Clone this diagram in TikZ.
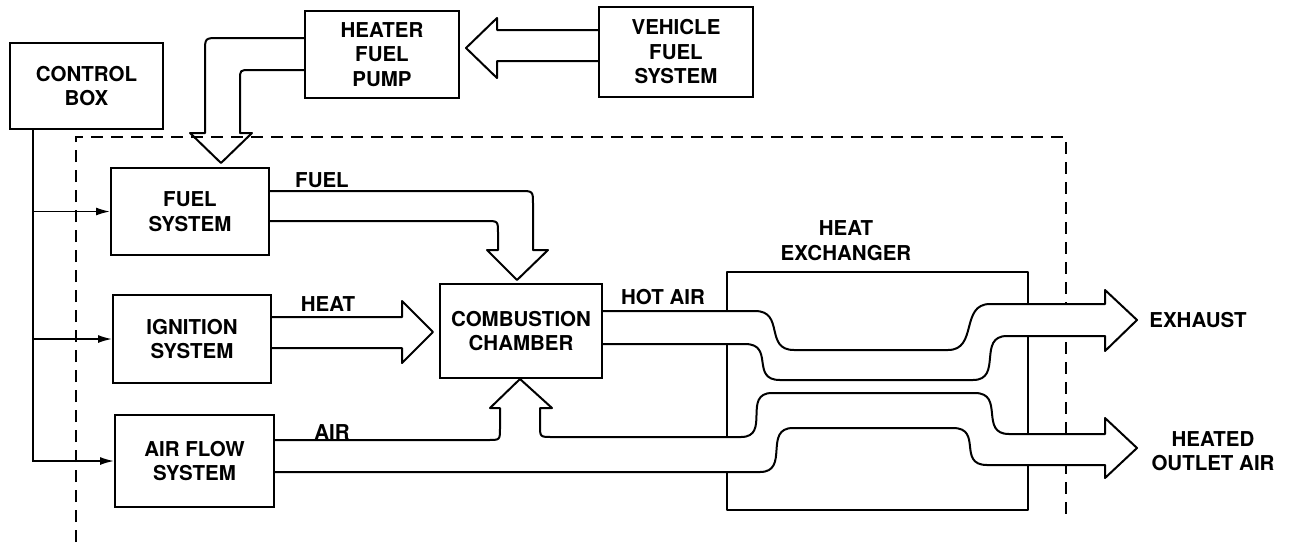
\documentclass[tikz,border=0pt]{standalone}
\usepackage{fontspec}
\setmainfont{TeX Gyre Heros}
\usetikzlibrary{arrows.meta}
\begin{document}
\begin{tikzpicture}[x=1pt,y=-1pt,
  every node/.style={font=\fontsize{20.5}{24.5}\selectfont\bfseries},
  box/.style={draw,line width=2pt,align=center,inner sep=0pt},
  lbl/.style={inner sep=0pt,align=center},
  ln/.style={line width=2pt,line join=round,line cap=round},
  flow/.style={draw,line width=2pt,line join=round,line cap=round},
  flowfill/.style={flow,fill=white},
  ctl/.style={line width=1.6pt},
  ctlarrow/.style={ctl,-{Latex[length=14pt,width=8pt]}},
  dsh/.style={line width=1.8pt,dash pattern=on 12pt off 8pt}]
\useasboundingbox (0,0) rectangle (1290,542);

% dashed enclosure
\draw[dsh] (76,542) -- (76,137) -- (1066,137) -- (1066,518);

% boxes
\node[box,minimum width=153pt,minimum height=86pt] (cb) at (86.5,86) {CONTROL\\BOX};
\node[box,minimum width=154pt,minimum height=87pt] (pump) at (382,54.5) {HEATER\\FUEL\\PUMP};
\node[box,minimum width=154pt,minimum height=90pt] (vfs) at (676,52) {VEHICLE\\FUEL\\SYSTEM};
\node[box,minimum width=158pt,minimum height=87pt] (fuel) at (190,211.5) {FUEL\\SYSTEM};
\node[box,minimum width=158pt,minimum height=88pt] (ign) at (192,339) {IGNITION\\SYSTEM};
\node[box,minimum width=159pt,minimum height=92pt] (air) at (194.5,461) {AIR FLOW\\SYSTEM};
\node[box,minimum width=162pt,minimum height=94pt] (comb) at (521,331) {COMBUSTION\\CHAMBER};
\node[inner sep=0pt,minimum width=301pt,minimum height=238pt] (hx) at (877.5,391) {};

% labels
\node[lbl] (lfuel) at (322,180) {FUEL};
\node[lbl] (lheat) at (328,304) {HEAT};
\node[lbl] (lair) at (332,432) {AIR};
\node[lbl] (lhot) at (663,297) {HOT AIR};
\node[lbl] (lhx) at (846,240.5) {HEAT\\EXCHANGER};
\node[lbl] (lexh) at (1198,320) {EXHAUST};
\node[lbl] (lout) at (1213,451) {HEATED\\OUTLET AIR};

% control lines
\coordinate (trunk) at (33,129);
\draw[ctlarrow] (trunk) |- (air.west);
\draw[ctlarrow] (trunk |- fuel.west) -- (fuel.west);
\draw[ctlarrow] (trunk |- ign.west) -- (ign.west);

% heat exchanger outline
\draw[ln] (hx.north west |- 0,311) -- (hx.north west) -- (hx.north east) -- (hx.north east |- 0,304);
\draw[ln] (hx.west |- 0,344) -- (hx.west |- 0,437);
\draw[ln] (hx.east |- 0,336) -- (hx.east |- 0,434);
\draw[ln] (hx.west |- 0,472) -- (hx.south west) -- (hx.south east) -- (hx.east |- 0,465);

% vehicle fuel -> heater pump
\draw[flow] (vfs.west |- 0,30) -- (497,30) -- (497,18) -- (466,48) -- (497,78) -- (497,61) -- (vfs.west |- 0,61);

% heater pump -> fuel system
\draw[flow] (pump.west |- 0,38) -- (219,38) .. controls (205,38) .. (205,52) -- (205,133)
  -- (190,133) -- (221,163) -- (252,133) -- (240,133) -- (240,80) .. controls (240,70) .. (250,70) -- (pump.west |- 0,70);

% fuel system -> combustion
\draw[flowfill] (fuel.east |- 0,191) -- (520,191) .. controls (533,191) .. (533,204) -- (533,250)
  -- (548,250) -- (517,280) -- (487,250) -- (498,250) -- (498,233) .. controls (498,221) .. (486,221) -- (fuel.east |- 0,221);

% ignition -> combustion
\draw[flowfill] (ign.east |- 0,317) -- (402,317) -- (402,301) -- (433,332) -- (402,363) -- (402,348) -- (ign.east |- 0,348);

% hot air -> exhaust
\draw[flowfill] (comb.east |- 0,311) -- (755,311) .. controls (785,311) and (764,350) .. (794,350) -- (948,350)
  .. controls (978,350) and (960,304) .. (990,304) -- (1105,304) -- (1105,290) -- (1137,320) -- (1105,351) -- (1105,336)
  -- (1007,336) .. controls (977,336) and (1003,380) .. (973,380) -- (780,380)
  .. controls (750,380) and (775,344) .. (745,344) -- (comb.east |- 0,344);

% air flow -> combustion and heated outlet air
\draw[flowfill] (air.east |- 0,440) -- (488,440) .. controls (500,440) .. (500,428) -- (500,408)
  -- (490,408) -- (520,379) -- (552,408) -- (540,408) -- (540,425) .. controls (540,437) .. (552,437)
  -- (741,437) .. controls (771,437) and (742,393) .. (772,393) -- (975,393)
  .. controls (1005,393) and (979,434) .. (1009,434) -- (1105,434) -- (1105,418) -- (1137,448) -- (1105,478) -- (1105,465)
  -- (987,465) .. controls (957,465) and (983,428) .. (953,428) -- (793,428)
  .. controls (763,428) and (790,472) .. (760,472) -- (air.east |- 0,472);
\end{tikzpicture}
\end{document}
